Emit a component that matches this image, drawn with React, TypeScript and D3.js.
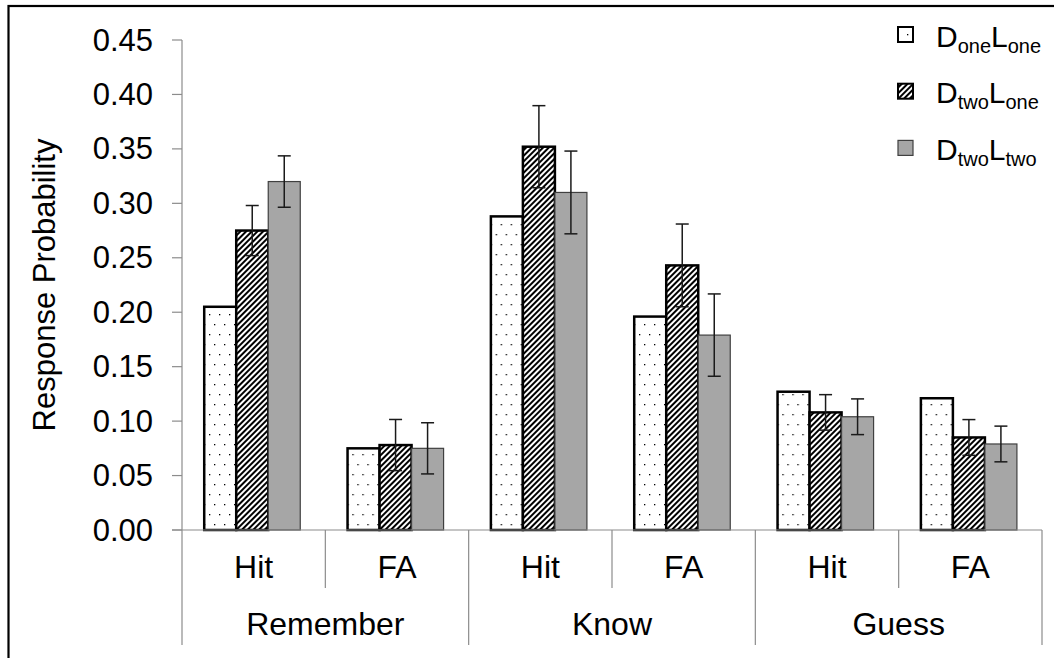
import React from "react";
import * as d3 from "d3";

const groups = ["Remember", "Know", "Guess"];
const subcats = ["Hit", "FA"];
const seriesKeys = ["DoneLone", "DtwoLone", "DtwoLtwo"];
const seriesD = ["one", "two", "two"];
const seriesL = ["one", "one", "two"];
const doneLone = [0.205, 0.075, 0.288, 0.196, 0.127, 0.121];
const dtwoLone = [0.275, 0.078, 0.352, 0.243, 0.108, 0.085];
const dtwoLtwo = [0.32, 0.075, 0.31, 0.179, 0.104, 0.079];
const errDtwoLone = [0.023, 0.0235, 0.0377, 0.038, 0.0163, 0.0164];
const errDtwoLtwo = [0.0236, 0.0235, 0.038, 0.0378, 0.0164, 0.0164];
const yTicks = [0, 0.05, 0.1, 0.15, 0.2, 0.25, 0.3, 0.35, 0.4, 0.45];

const W = 1054;
const H = 658;
const FONT = "'Liberation Sans', Arial, sans-serif";

export default function App() {
  const left = 182;
  const right = 1042;
  const y0 = 530;
  const yTop = 40;
  const y = d3.scaleLinear().domain([0, 0.45]).range([y0, yTop]);
  const cats = groups.flatMap((g) => subcats.map((s) => g + "|" + s));
  const x0 = d3.scaleBand().domain(cats).range([left, right]).padding(0);
  const bw = x0.bandwidth();
  const x1 = d3
    .scaleBand()
    .domain(seriesKeys)
    .range([bw * 0.155, bw * 0.825])
    .padding(0);
  const values = [doneLone, dtwoLone, dtwoLtwo];
  const errs = [null, errDtwoLone, errDtwoLtwo];
  const fills = ["url(#dots)", "url(#hatch)", "#a6a6a6"];
  const strokes = ["#000", "#000", "#404040"];
  const strokeW = [2.5, 2.5, 1.2];
  const axisColor = "#8c8c8c";
  const groupScale = d3.scaleBand().domain(groups).range([left, right]).padding(0);

  return (
    <div style={{ position: "fixed", left: 0, top: 0 }}>
      <svg width={W} height={H} style={{ display: "block", background: "#fff" }}>
        <defs>
          <pattern id="dots" width={10} height={20} patternUnits="userSpaceOnUse">
            <rect width={10} height={20} fill="#fff" />
            <rect x={2} y={4} width={1.3} height={1.3} fill="#000" />
            <rect x={7} y={14} width={1.3} height={1.3} fill="#000" />
          </pattern>
          <pattern
            id="hatch"
            width={4}
            height={4}
            patternUnits="userSpaceOnUse"
            patternTransform="rotate(45)"
          >
            <rect width={4} height={4} fill="#fff" />
            <rect width={2} height={4} fill="#000" />
          </pattern>
        </defs>
        <rect x={8.5} y={6} width={W + 20} height={H + 20} fill="none" stroke="#000" strokeWidth={2.2} />

        {/* y axis */}
        <line x1={left} x2={left} y1={yTop} y2={645} stroke={axisColor} strokeWidth={1.2} />
        {yTicks.map((t) => (
          <g key={t}>
            <line x1={left - 10} x2={left} y1={y(t)} y2={y(t)} stroke={axisColor} strokeWidth={1.2} />
            <text
              x={153}
              y={y(t)}
              textAnchor="end"
              dominantBaseline="central"
              fontFamily={FONT}
              fontSize={31}
              fill="#000"
            >
              {t.toFixed(2)}
            </text>
          </g>
        ))}
        <text
          transform={`translate(44, ${(y0 + yTop) / 2}) rotate(-90)`}
          textAnchor="middle"
          dominantBaseline="central"
          fontFamily={FONT}
          fontSize={31}
        >
          Response Probability
        </text>

        {/* bars */}
        {cats.map((c, ci) => (
          <g key={c} transform={`translate(${x0(c)},0)`}>
            {seriesKeys.map((s, si) => {
              const v = values[si][ci];
              return (
                <rect
                  key={s}
                  x={x1(s)}
                  y={y(v)}
                  width={x1.bandwidth()}
                  height={y0 - y(v)}
                  fill={fills[si]}
                  stroke={strokes[si]}
                  strokeWidth={strokeW[si]}
                />
              );
            })}
          </g>
        ))}

        {/* x axis line */}
        <line x1={left - 10} x2={right} y1={y0} y2={y0} stroke={axisColor} strokeWidth={1.2} />
        {/* error bars */}
        {cats.map((c, ci) => (
          <g key={"e" + c} transform={`translate(${x0(c)},0)`}>
            {seriesKeys.map((s, si) => {
              const e = errs[si];
              if (!e) return null;
              const v = values[si][ci];
              const cx = (x1(s) as number) + x1.bandwidth() / 2;
              const capW = 6.5;
              return (
                <g key={s} stroke="#1a1a1a" strokeWidth={1.5}>
                  <line x1={cx} x2={cx} y1={y(v + e[ci])} y2={y(v - e[ci])} />
                  <line x1={cx - capW} x2={cx + capW} y1={y(v + e[ci])} y2={y(v + e[ci])} />
                  <line x1={cx - capW} x2={cx + capW} y1={y(v - e[ci])} y2={y(v - e[ci])} />
                </g>
              );
            })}
          </g>
        ))}

        {/* category axis */}
        {cats.map((c, ci) => {
          const sub = c.split("|")[1];
          const xs = x0(c) as number;
          return (
            <g key={"c" + c}>
              {ci % 2 === 1 && (
                <line x1={xs} x2={xs} y1={y0} y2={588} stroke={axisColor} strokeWidth={1.2} />
              )}
              <text
                x={xs + bw / 2}
                y={578}
                textAnchor="middle"
                fontFamily={FONT}
                fontSize={32}
              >
                {sub}
              </text>
            </g>
          );
        })}
        {groups.map((g) => {
          const xs = groupScale(g) as number;
          return (
            <g key={g}>
              <line
                x1={xs + groupScale.bandwidth()}
                x2={xs + groupScale.bandwidth()}
                y1={y0}
                y2={645}
                stroke={axisColor}
                strokeWidth={1.2}
              />
              <text
                x={xs + groupScale.bandwidth() / 2}
                y={635}
                textAnchor="middle"
                fontFamily={FONT}
                fontSize={32}
              >
                {g}
              </text>
            </g>
          );
        })}

        {/* legend */}
        {seriesKeys.map((s, si) => {
          const base = 46.5 + si * 56.7;
          return (
            <g key={"l" + s}>
              <rect
                x={898}
                y={base - 19.5}
                width={15}
                height={15}
                fill={fills[si]}
                stroke={strokes[si]}
                strokeWidth={si === 2 ? 1.2 : 2}
              />
              <text x={936} y={base} fontFamily={FONT} fontSize={30}>
                D
                <tspan fontSize={20} dy={6}>
                  {seriesD[si]}
                </tspan>
                <tspan fontSize={30} dy={-6}>
                  L
                </tspan>
                <tspan fontSize={20} dy={6}>
                  {seriesL[si]}
                </tspan>
              </text>
            </g>
          );
        })}
      </svg>
    </div>
  );
}
